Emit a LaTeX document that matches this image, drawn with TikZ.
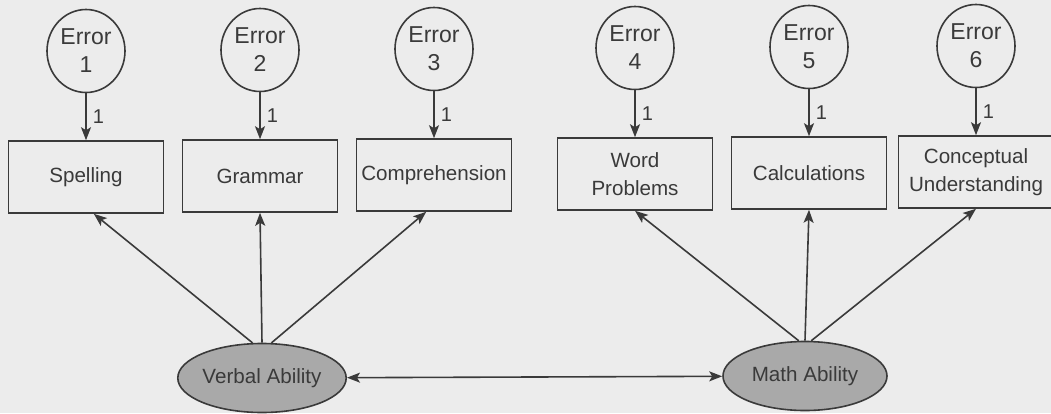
\documentclass[tikz,border=0pt]{standalone}
\usepackage{fontspec}
\setmainfont{Liberation Sans}
\usetikzlibrary{shapes.geometric,arrows.meta}

\definecolor{ink}{HTML}{3A3A3A}
\definecolor{paper}{HTML}{ECECEC}
\definecolor{latent}{HTML}{A9A9A9}

\begin{document}
\begin{tikzpicture}[x=0.5pt,y=-0.5pt, line width=0.8pt, draw=ink, text=ink,
	errnode/.style={ellipse, draw, minimum width=39pt, minimum height=41.5pt, inner sep=0pt, align=center, font=\fontsize{11.5}{14}\selectfont},
	obsbox/.style={rectangle, draw, minimum width=77.5pt, minimum height=36pt, inner sep=1pt, align=center, font=\fontsize{10.3}{14}\selectfont},
	latnode/.style={ellipse, draw, fill=latent, minimum width=82pt, minimum height=34.5pt, inner sep=0pt, font=\fontsize{10.3}{12}\selectfont},
	load/.style={-{Stealth[length=6.5pt,width=5pt,inset=1.5pt]}},
	corr/.style={{Stealth[length=6.5pt,width=5pt,inset=1.5pt]}-{Stealth[length=6.5pt,width=5pt,inset=1.5pt]}},
	wt/.style={right, font=\fontsize{10}{12}\selectfont, inner sep=3pt}]
	\fill[paper] (0,0) rectangle (1051,413);
	\useasboundingbox (0,0) rectangle (1051,413);

	% error terms
	\node[errnode] (e1) at (86,51) {Error\\1};
	\node[errnode] (e2) at (260,50) {Error\\2};
	\node[errnode] (e3) at (434,49) {Error\\3};
	\node[errnode] (e4) at (635,48) {Error\\4};
	\node[errnode] (e5) at (809,47) {Error\\5};
	\node[errnode] (e6) at (976,46) {Error\\6};

	% observed scores
	\node[obsbox] (spell) at (86,177) {Spelling};
	\node[obsbox] (gram) at (260,176) {Grammar};
	\node[obsbox] (comp) at (434,175) {Comprehension};
	\node[obsbox] (word) at (635,174) {Word\\Problems};
	\node[obsbox] (calc) at (809,173) {Calculations};
	\node[obsbox] (conc) at (976,172) {Conceptual\\Understanding};

	% factors
	\node[latnode] (verb) at (262,378) {Verbal Ability};
	\node[latnode] (math) at (805,376) {Math Ability};

	\draw[load] (e1) -- node[wt] {1} (spell);
	\draw[load] (e2) -- node[wt] {1} (gram);
	\draw[load] (e3) -- node[wt] {1} (comp);
	\draw[load] (e4) -- node[wt] {1} (word);
	\draw[load] (e5) -- node[wt] {1} (calc);
	\draw[load] (e6) -- node[wt] {1} (conc);

	\draw[load] (verb.105) -- (spell.-78);
	\draw[load] (verb.north) -- (gram.south);
	\draw[load] (verb.75) -- (comp.-102);
	\draw[load] (math.100) -- (word.south);
	\draw[load] (math.north) -- (calc.south);
	\draw[load] (math.80) -- (conc.south);

	\draw[corr] (verb) -- (math);
\end{tikzpicture}
\end{document}
